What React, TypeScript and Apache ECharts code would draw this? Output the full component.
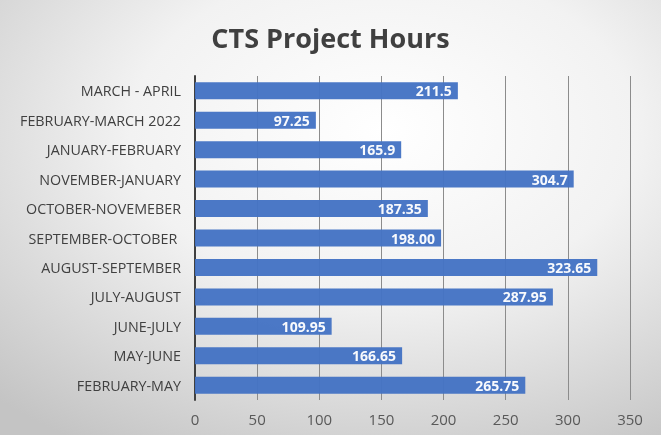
import React, { useEffect, useRef } from "react";
import * as echarts from "echarts";

const categories = [
  "FEBRUARY-MAY",
  "MAY-JUNE",
  "JUNE-JULY",
  "JULY-AUGUST",
  "AUGUST-SEPTEMBER",
  "SEPTEMBER-OCTOBER ",
  "OCTOBER-NOVEMEBER",
  "NOVEMBER-JANUARY",
  "JANUARY-FEBRUARY",
  "FEBRUARY-MARCH 2022",
  "MARCH - APRIL",
];
const hours = [265.75, 166.65, 109.95, 287.95, 323.65, 198.0, 187.35, 304.7, 165.9, 97.25, 211.5];
const hourLabels = ["265.75", "166.65", "109.95", "287.95", "323.65", "198.00", "187.35", "304.7", "165.9", "97.25", "211.5"];

export default function App() {
  const ref = useRef<HTMLDivElement>(null);
  useEffect(() => {
    const chart = echarts.init(ref.current!, null, { renderer: "svg" });
    chart.setOption({
      animation: false,
      backgroundColor: new echarts.graphic.RadialGradient(0.58, 0.3, 0.85, [
        { offset: 0, color: "#ffffff" },
        { offset: 0.45, color: "#f2f2f2" },
        { offset: 1, color: "#c4c4c4" },
      ]),
      title: {
        text: "CTS Project Hours",
        left: "center",
        top: 19,
        textStyle: {
          fontFamily: "Open Sans",
          fontWeight: "bold",
          fontSize: 27,
          color: "#404040",
        },
      },
      grid: { left: 195, right: 31, top: 76, bottom: 35, containLabel: false },
      xAxis: {
        type: "value",
        min: 0,
        max: 350,
        interval: 50,
        axisLine: { show: false },
        axisTick: { show: false },
        axisLabel: { color: "#595959", fontFamily: "Open Sans", fontSize: 15, margin: 11 },
        splitLine: { show: true, lineStyle: { color: "#8c8c8c", width: 1 } },
      },
      yAxis: {
        type: "category",
        data: categories,
        axisLine: { show: true, lineStyle: { color: "#404040", width: 2 } },
        axisTick: { show: false },
        axisLabel: { color: "#404040", fontFamily: "Open Sans", fontSize: 14.3, margin: 14 },
      },
      series: [
        {
          type: "bar",
          data: hours,
          barWidth: 17,
          itemStyle: { color: "#4472C4", opacity: 0.96 },
          label: {
            show: true,
            position: "insideRight",
            distance: 6,
            color: "#ffffff",
            fontWeight: "bold",
            fontFamily: "Open Sans",
            fontSize: 14,
            formatter: (p: any) => hourLabels[p.dataIndex],
          },
        },
      ],
    });
    return () => chart.dispose();
  }, []);
  return (
    <div
      ref={ref}
      style={{ position: "fixed", left: 0, top: 0, width: 661, height: 435 }}
    />
  );
}
